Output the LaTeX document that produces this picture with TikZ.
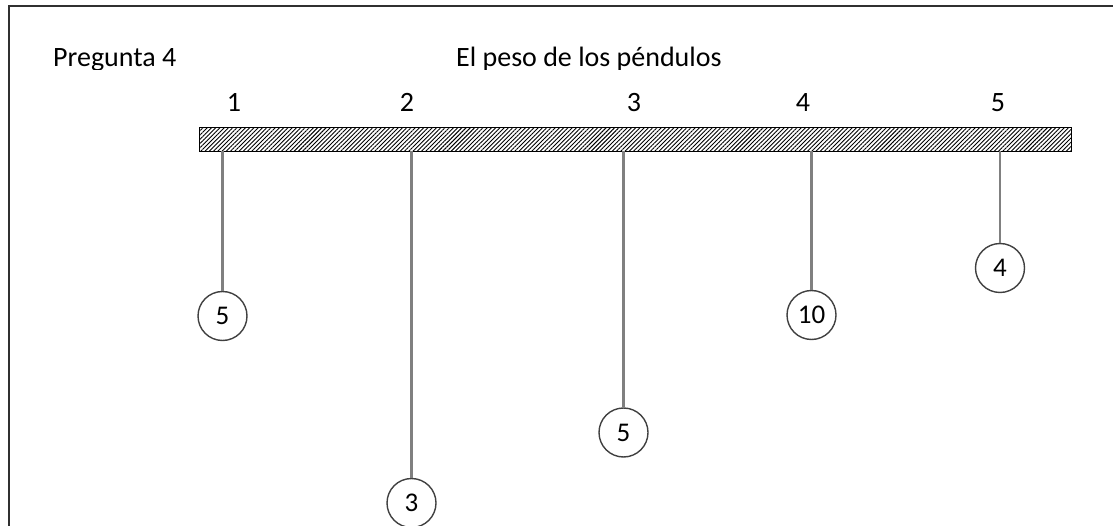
\documentclass[tikz,border=0pt]{standalone}
\usepackage{fontspec}
\setmainfont{Carlito}
\usetikzlibrary{patterns.meta}
\definecolor{framegray}{HTML}{303030}
\definecolor{stringgray}{HTML}{808080}
\definecolor{ballgray}{HTML}{404040}
\tikzset{
  bigfont/.style={font=\fontsize{28}{30}\selectfont},
  numfont/.style={font=\fontsize{27}{29}\selectfont},
  header/.style={bigfont, anchor=base west, inner sep=0pt, text=black},
  poslabel/.style={bigfont, anchor=base, inner sep=0pt, text=black},
  ball/.style={circle, draw=ballgray, line width=1.4pt, minimum size=49pt, inner sep=0pt, numfont, fill=white},
  stringline/.style={draw=stringgray, line width=2.4pt},
  framestyle/.style={draw=framegray, line width=2pt}
}
\begin{document}
\begin{tikzpicture}[x=1pt,y=-1pt]
\useasboundingbox (0,0) rectangle (1113,526);
% frame (extends beyond the picture at right and bottom)
\coordinate (ftl) at (9,6);
\coordinate (ftr) at (1120,6);
\coordinate (fbl) at (9,540);
\draw[framestyle] (ftr) -- (ftl) -- (fbl);
% header texts, clipped at the bottom as in the reference
\begin{scope}
\clip (20,30) rectangle (760,70);
\node[header] (q) at (53,67) {Pregunta 4};
\node[header] (t) at (456,67) {El peso de los péndulos};
\end{scope}
% position labels
\node[poslabel] (l1) at (234,112) {1};
\node[poslabel] (l2) at (407,112) {2};
\node[poslabel] (l3) at (634,112) {3};
\node[poslabel] (l4) at (803,112) {4};
\node[poslabel] (l5) at (998,112) {5};
% bar
\node[draw=black, line width=1.2pt, minimum width=872pt, minimum height=24pt, inner sep=0pt, anchor=north west,
      pattern={Lines[angle=45, distance=3pt, line width=0.9pt]}] (bar) at (199,127) {};
% hanging points
\coordinate (h1) at (222.5,151);
\coordinate (h2) at (411.5,151);
\coordinate (h3) at (623.5,151);
\coordinate (h4) at (811.5,151);
\coordinate (h5) at (1000,151);
% balls
\node[ball] (b1) at (222.5,316) {5};
\node[ball] (b2) at (411.5,503) {3};
\node[ball] (b3) at (623.5,432.5) {5};
\node[ball] (b4) at (811.5,315) {10};
\node[ball] (b5) at (1000,268) {4};
% strings
\draw[stringline] (h1) -- (b1.north);
\draw[stringline] (h2) -- (b2.north);
\draw[stringline] (h3) -- (b3.north);
\draw[stringline] (h4) -- (b4.north);
\draw[stringline] (h5) -- (b5.north);
\end{tikzpicture}
\end{document}
